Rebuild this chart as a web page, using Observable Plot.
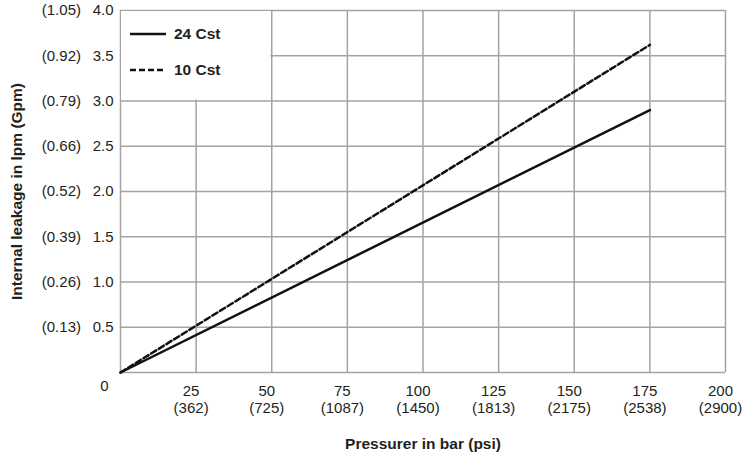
<!DOCTYPE html>
<html>
<head>
<meta charset="utf-8">
<script src="https://cdn.jsdelivr.net/npm/d3@7"></script>
<script src="https://cdn.jsdelivr.net/npm/@observablehq/plot@0.6"></script>
<style>
  body { margin: 0; background: #fff; }
  #wrap { position: relative; width: 742px; height: 456px; font-family: "Liberation Sans", Arial, Helvetica, sans-serif; }
  #legend { position: absolute; left: 130px; top: 22px; font-weight: bold; font-size: 15.5px; color: #231f20; }
  .item { display: flex; align-items: center; height: 24px; margin-bottom: 12px; }
  .item svg { margin-right: 8px; }
</style>
</head>
<body>
<div id="wrap">
  <div id="legend"></div>
</div>
<script>
// Data
const pressureBar = [0, 175];
const leak24Cst = [0, 2.9];
const leak10Cst = [0, 3.62];
const seriesNames = ["24 Cst", "10 Cst"];

// Tick labels
const xTicks = [25, 50, 75, 100, 125, 150, 175, 200];
const psiLabels = ["(362)", "(725)", "(1087)", "(1450)", "(1813)", "(2175)", "(2538)", "(2900)"];
const yTicks = [0.5, 1.0, 1.5, 2.0, 2.5, 3.0, 3.5, 4.0];
const gpmLabels = ["(0.13)", "(0.26)", "(0.39)", "(0.52)", "(0.66)", "(0.79)", "(0.92)", "(1.05)"];
const gridX = [0, ...xTicks];
const gridY = [0, ...yTicks];

const rows24 = pressureBar.map((p, i) => ({p, v: leak24Cst[i]}));
const rows10 = pressureBar.map((p, i) => ({p, v: leak10Cst[i]}));

const textColor = "#231f20";
const gridColor = "#a3a3a3";

const chart = Plot.plot({
  width: 742,
  height: 456,
  marginLeft: 120,
  marginRight: 17,
  marginTop: 10,
  marginBottom: 84,
  style: {fontFamily: "'Liberation Sans', Arial, Helvetica, sans-serif", fontSize: "15px", color: textColor, background: "#fff"},
  x: {domain: [0, 200]},
  y: {domain: [0, 4]},
  marks: [
    Plot.ruleX(gridX, {stroke: gridColor, strokeWidth: 1.5}),
    Plot.ruleY(gridY, {stroke: gridColor, strokeWidth: 1.5}),
    // white legend panel
    Plot.rect([{x1: 0, x2: 50, y1: 3, y2: 4}], {x1: "x1", x2: "x2", y1: "y1", y2: "y2", fill: "white", inset: 1}),
    Plot.axisX(xTicks, {
      tickSize: 0, tickPadding: 11, lineHeight: 1.15, fontSize: 15, fill: textColor, dx: -5,
      tickFormat: (d) => `${d}\n${psiLabels[xTicks.indexOf(d)]}`,
      label: null
    }),
    Plot.axisX({
      ticks: [], tickSize: 0,
      label: "Pressurer in bar (psi)", labelAnchor: "center", labelArrow: "none", labelOffset: 76
    }),
    Plot.axisY(yTicks, {
      tickSize: 0, tickPadding: 7, fontSize: 15, fill: textColor,
      tickFormat: (d) => `${gpmLabels[yTicks.indexOf(d)]}\u2002 ${d.toFixed(1)}`,
      label: null
    }),
    Plot.axisY({
      ticks: [], tickSize: 0,
      label: "Internal leakage in lpm (Gpm)", labelAnchor: "center", labelArrow: "none", labelOffset: 110
    }),
    Plot.text([0], {x: 0, y: 0, text: () => "0", dx: -16, dy: 14, fontSize: 15, fill: textColor}),
    Plot.line(rows10, {x: "p", y: "v", stroke: "#111", strokeWidth: 2.5, strokeDasharray: "6,3"}),
    Plot.line(rows24, {x: "p", y: "v", stroke: "#111", strokeWidth: 2.5})
  ]
});

// make axis titles bold and larger
chart.querySelectorAll("[aria-label='x-axis label'], [aria-label='y-axis label']").forEach(g => {
  g.setAttribute("font-weight", "bold");
  g.setAttribute("font-size", "15.5");
  g.setAttribute("fill", textColor);
});

const wrap = document.getElementById("wrap");
wrap.insertBefore(chart, wrap.firstChild);
chart.style.position = "absolute";
chart.style.left = "0";
chart.style.top = "0";

// legend
const legend = document.getElementById("legend");
const dashes = ["none", "6,3"];
seriesNames.forEach((name, i) => {
  const item = document.createElement("div");
  item.className = "item";
  item.innerHTML = `<svg width="36" height="6"><line x1="0" y1="3" x2="36" y2="3" stroke="#111" stroke-width="2.5" stroke-dasharray="${dashes[i]}"/></svg><span>${name}</span>`;
  legend.appendChild(item);
});
</script>
</body>
</html>
